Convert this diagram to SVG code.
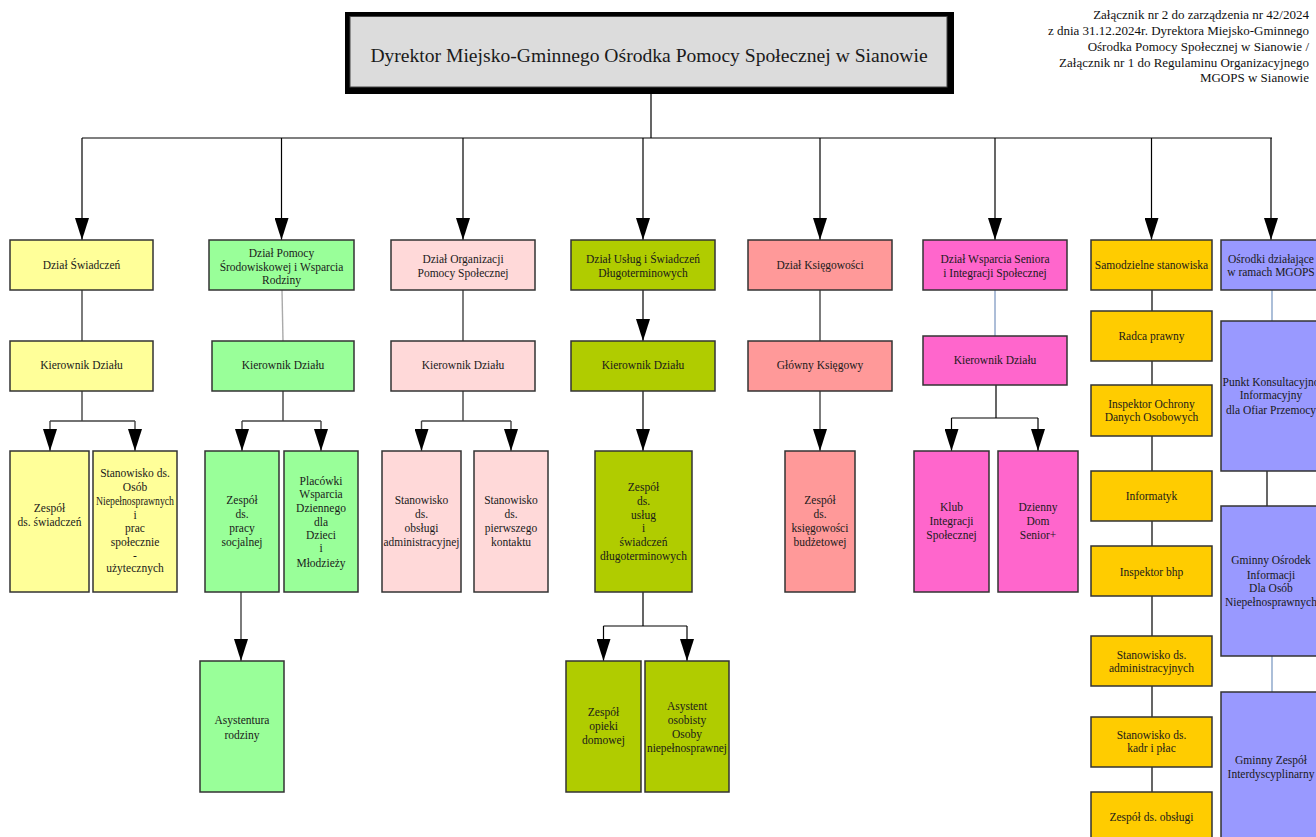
<svg xmlns="http://www.w3.org/2000/svg" width="1316" height="837" viewBox="0 0 1316 837">
<defs>
<style>
.t{font-family:"Liberation Serif","Times New Roman",serif;font-size:11.5px;fill:#1a1a1a;text-anchor:middle}
.ann{font-family:"Liberation Serif","Times New Roman",serif;font-size:13px;fill:#111;text-anchor:end}
.title{font-family:"Liberation Serif","Times New Roman",serif;font-size:19.6px;fill:#1a1a1a;text-anchor:middle}
.b{stroke:#333;stroke-width:1.5}
.y{fill:#ffff99}.g{fill:#99ff99}.p{fill:#ffd9d9}.l{fill:#b0cc00}.s{fill:#ff9999}.m{fill:#ff66cc}.o{fill:#ffcc00}.v{fill:#9999ff}
.c{fill:none;stroke:#444;stroke-width:1.4}
.ck{stroke:#000;stroke-width:1.2}
.cl{stroke:#aaa}
.cb{stroke:#5a7db0;stroke-width:1}
.cv{stroke:#7f9cc4;stroke-width:1.3}
</style>
<marker id="ah" markerUnits="userSpaceOnUse" markerWidth="22" markerHeight="14" viewBox="0 0 22 14" refX="22" refY="7" orient="auto"><path d="M0,0 L22,7 L0,14 Z" fill="#000"/></marker>
</defs>
<rect width="1316" height="837" fill="#fff"/>

<g id="annotation">
<text class="ann" x="1309" y="19">Załącznik nr 2 do zarządzenia nr 42/2024</text>
<text class="ann" x="1309" y="35">z dnia 31.12.2024r. Dyrektora Miejsko-Gminnego</text>
<text class="ann" x="1309" y="51">Ośrodka Pomocy Społecznej w Sianowie /</text>
<text class="ann" x="1309" y="67">Załącznik nr 1 do Regulaminu Organizacyjnego</text>
<text class="ann" x="1309" y="82">MGOPS w Sianowie</text>
</g>

<g id="connectors">
<path class="c ck" d="M651,92 V138 M82,138 H1272"/>
<path class="c ck" marker-end="url(#ah)" d="M82,138 V240"/>
<path class="c ck" marker-end="url(#ah)" d="M281.5,138 V240"/>
<path class="c ck" marker-end="url(#ah)" d="M463,138 V240"/>
<path class="c ck" marker-end="url(#ah)" d="M643,138 V240"/>
<path class="c ck" marker-end="url(#ah)" d="M820,138 V240"/>
<path class="c ck" marker-end="url(#ah)" d="M995,138 V240"/>
<path class="c ck" marker-end="url(#ah)" d="M1151.5,138 V240"/>
<path class="c ck" marker-end="url(#ah)" d="M1271,138 V240"/>

<path class="c" d="M82,290 V341"/>
<path class="c" d="M82,391 V421 M50,421 H135"/>
<path class="c" marker-end="url(#ah)" d="M50,421 V451"/>
<path class="c" marker-end="url(#ah)" d="M135,421 V451"/>

<path class="c cl" d="M282,290 L283,341"/>
<path class="c" d="M283,391 V421 M242,421 H321"/>
<path class="c" marker-end="url(#ah)" d="M242,421 V451"/>
<path class="c" marker-end="url(#ah)" d="M321,421 V451"/>
<path class="c" marker-end="url(#ah)" d="M241,592 V661"/>

<path class="c" d="M463,290 V341"/>
<path class="c" d="M463,391 V421 M421.5,421 H511"/>
<path class="c" marker-end="url(#ah)" d="M421.5,421 V451"/>
<path class="c" marker-end="url(#ah)" d="M511,421 V451"/>

<path class="c ck" marker-end="url(#ah)" d="M643,290 V341"/>
<path class="c ck" marker-end="url(#ah)" d="M643,391 V451"/>
<path class="c ck" d="M643,592 V626 M603.5,626 H687"/>
<path class="c ck" marker-end="url(#ah)" d="M603.5,626 V661"/>
<path class="c ck" marker-end="url(#ah)" d="M687,626 V661"/>

<path class="c" d="M820,290 V341"/>
<path class="c" marker-end="url(#ah)" d="M820,391 V451"/>

<path class="c cb" d="M995,290 V336"/>
<path class="c ck" d="M996,385 V418 M951.5,418 H1038"/>
<path class="c ck" marker-end="url(#ah)" d="M951.5,418 V451"/>
<path class="c ck" marker-end="url(#ah)" d="M1038,418 V451"/>

<path class="c ck" d="M1152,290 V311 M1152,361 V385 M1152,436 V471 M1152,521 V546 M1152,596 V636 M1152,686 V717 M1152,767 V792"/>

<path class="c cv" d="M1272,290 V321"/>
<path class="c ck" d="M1267,471 V506"/>
<path class="c cv" d="M1272,656 V692"/>
</g>

<g id="n_dyrektor">
<rect x="345" y="12" width="609" height="82" fill="#000"/>
<rect x="350" y="16.5" width="597" height="70.5" fill="#dcdcdc" stroke="#444" stroke-width="1"/>
<text class="title" x="649" y="62">Dyrektor Miejsko-Gminnego Ośrodka Pomocy Społecznej w Sianowie</text>
</g>

<g id="n_swiadczen">
<rect class="b y" x="10" y="240" width="143" height="50"/>
<text class="t" x="81.5" y="269">Dział Świadczeń</text>
</g>
<g id="n_swiadczen_kier">
<rect class="b y" x="10" y="341" width="143" height="50"/>
<text class="t" x="81.5" y="369">Kierownik Działu</text>
</g>
<g id="n_swiadczen_zespol">
<rect class="b y" x="10" y="451" width="79" height="141"/>
<text class="t" x="49.5" y="512">Zespół</text>
<text class="t" x="49.5" y="526">ds. świadczeń</text>
</g>
<g id="n_swiadczen_stan">
<rect class="b y" x="93" y="451" width="84" height="141"/>
<text class="t" x="135" y="477">Stanowisko ds.</text>
<text class="t" x="135" y="491">Osób</text>
<text class="t" x="135" y="505" textLength="78" lengthAdjust="spacingAndGlyphs">Niepełnosprawnych</text>
<text class="t" x="135" y="519">i</text>
<text class="t" x="135" y="532">prac</text>
<text class="t" x="135" y="546">społecznie</text>
<text class="t" x="135" y="559">-</text>
<text class="t" x="135" y="572">użytecznych</text>
</g>

<g id="n_pomocy">
<rect class="b g" x="209" y="240" width="145" height="50"/>
<text class="t" x="281.5" y="257">Dział Pomocy</text>
<text class="t" x="281.5" y="270.5">Środowiskowej i Wsparcia</text>
<text class="t" x="281.5" y="284">Rodziny</text>
</g>
<g id="n_pomocy_kier">
<rect class="b g" x="212" y="341" width="142" height="50"/>
<text class="t" x="283" y="369">Kierownik Działu</text>
</g>
<g id="n_pomocy_zespol">
<rect class="b g" x="205" y="451" width="74" height="141"/>
<text class="t" x="242" y="504">Zespół</text>
<text class="t" x="242" y="518">ds.</text>
<text class="t" x="242" y="532">pracy</text>
<text class="t" x="242" y="546">socjalnej</text>
</g>
<g id="n_pomocy_placowki">
<rect class="b g" x="284" y="451" width="74" height="141"/>
<text class="t" x="321" y="485">Placówki</text>
<text class="t" x="321" y="498">Wsparcia</text>
<text class="t" x="321" y="512">Dziennego</text>
<text class="t" x="321" y="526">dla</text>
<text class="t" x="321" y="539">Dzieci</text>
<text class="t" x="321" y="552">i</text>
<text class="t" x="321" y="567">Młodzieży</text>
</g>
<g id="n_pomocy_asystentura">
<rect class="b g" x="200" y="661" width="84" height="131"/>
<text class="t" x="242" y="724">Asystentura</text>
<text class="t" x="242" y="739">rodziny</text>
</g>

<g id="n_organizacji">
<rect class="b p" x="391" y="240" width="144" height="50"/>
<text class="t" x="463" y="263">Dział Organizacji</text>
<text class="t" x="463" y="277">Pomocy Społecznej</text>
</g>
<g id="n_organizacji_kier">
<rect class="b p" x="391" y="341" width="144" height="50"/>
<text class="t" x="463" y="369">Kierownik Działu</text>
</g>
<g id="n_organizacji_obsl">
<rect class="b p" x="382" y="451" width="79" height="141"/>
<text class="t" x="421.5" y="504">Stanowisko</text>
<text class="t" x="421.5" y="518">ds.</text>
<text class="t" x="421.5" y="532">obsługi</text>
<text class="t" x="421.5" y="546" textLength="76" lengthAdjust="spacingAndGlyphs">administracyjnej</text>
</g>
<g id="n_organizacji_kontakt">
<rect class="b p" x="474" y="451" width="74" height="141"/>
<text class="t" x="511" y="504">Stanowisko</text>
<text class="t" x="511" y="518">ds.</text>
<text class="t" x="511" y="532">pierwszego</text>
<text class="t" x="511" y="546">kontaktu</text>
</g>

<g id="n_uslug">
<rect class="b l" x="571" y="240" width="144" height="50"/>
<text class="t" x="643" y="263">Dział Usług i Świadczeń</text>
<text class="t" x="643" y="277">Długoterminowych</text>
</g>
<g id="n_uslug_kier">
<rect class="b l" x="571" y="341" width="144" height="50"/>
<text class="t" x="643" y="369">Kierownik Działu</text>
</g>
<g id="n_uslug_zespol">
<rect class="b l" x="595" y="451" width="97" height="141"/>
<text class="t" x="643.5" y="491">Zespół</text>
<text class="t" x="643.5" y="505">ds.</text>
<text class="t" x="643.5" y="519">usług</text>
<text class="t" x="643.5" y="532">i</text>
<text class="t" x="643.5" y="546">świadczeń</text>
<text class="t" x="643.5" y="560">długoterminowych</text>
</g>
<g id="n_uslug_opieka">
<rect class="b l" x="566" y="661" width="75" height="131"/>
<text class="t" x="603.5" y="716">Zespół</text>
<text class="t" x="603.5" y="730">opieki</text>
<text class="t" x="603.5" y="744">domowej</text>
</g>
<g id="n_uslug_asystent">
<rect class="b l" x="645" y="661" width="84" height="131"/>
<text class="t" x="687" y="710">Asystent</text>
<text class="t" x="687" y="724">osobisty</text>
<text class="t" x="687" y="738">Osoby</text>
<text class="t" x="687" y="752" textLength="80" lengthAdjust="spacingAndGlyphs">niepełnosprawnej</text>
</g>

<g id="n_ksiegowosci">
<rect class="b s" x="748" y="240" width="144" height="50"/>
<text class="t" x="820" y="269">Dział Księgowości</text>
</g>
<g id="n_ksiegowosci_glowny">
<rect class="b s" x="748" y="341" width="144" height="50"/>
<text class="t" x="820" y="369">Główny Księgowy</text>
</g>
<g id="n_ksiegowosci_zespol">
<rect class="b s" x="785" y="451" width="70" height="141"/>
<text class="t" x="820" y="504">Zespół</text>
<text class="t" x="820" y="518">ds.</text>
<text class="t" x="820" y="532">księgowości</text>
<text class="t" x="820" y="546">budżetowej</text>
</g>

<g id="n_seniora">
<rect class="b m" x="923" y="240" width="144" height="50"/>
<text class="t" x="995" y="263">Dział Wsparcia Seniora</text>
<text class="t" x="995" y="277">i Integracji Społecznej</text>
</g>
<g id="n_seniora_kier">
<rect class="b m" x="923" y="336" width="144" height="49"/>
<text class="t" x="995" y="364">Kierownik Działu</text>
</g>
<g id="n_seniora_klub">
<rect class="b m" x="914" y="451" width="75" height="141"/>
<text class="t" x="951.5" y="511">Klub</text>
<text class="t" x="951.5" y="525">Integracji</text>
<text class="t" x="951.5" y="539">Społecznej</text>
</g>
<g id="n_seniora_dom">
<rect class="b m" x="998" y="451" width="80" height="141"/>
<text class="t" x="1038" y="511">Dzienny</text>
<text class="t" x="1038" y="525">Dom</text>
<text class="t" x="1038" y="539">Senior+</text>
</g>

<g id="n_samodzielne">
<rect class="b o" x="1091" y="240" width="121" height="50"/>
<text class="t" x="1151.5" y="269">Samodzielne stanowiska</text>
</g>
<g id="n_radca">
<rect class="b o" x="1091" y="311" width="121" height="50"/>
<text class="t" x="1151.5" y="340">Radca prawny</text>
</g>
<g id="n_iod">
<rect class="b o" x="1091" y="385" width="121" height="51"/>
<text class="t" x="1151.5" y="408">Inspektor Ochrony</text>
<text class="t" x="1151.5" y="421">Danych Osobowych</text>
</g>
<g id="n_informatyk">
<rect class="b o" x="1091" y="471" width="121" height="50"/>
<text class="t" x="1151.5" y="500">Informatyk</text>
</g>
<g id="n_bhp">
<rect class="b o" x="1091" y="546" width="121" height="50"/>
<text class="t" x="1151.5" y="576">Inspektor bhp</text>
</g>
<g id="n_admin">
<rect class="b o" x="1091" y="636" width="121" height="50"/>
<text class="t" x="1151.5" y="659">Stanowisko ds.</text>
<text class="t" x="1151.5" y="672">administracyjnych</text>
</g>
<g id="n_kadry">
<rect class="b o" x="1091" y="717" width="121" height="50"/>
<text class="t" x="1151.5" y="739">Stanowisko ds.</text>
<text class="t" x="1151.5" y="752">kadr i płac</text>
</g>
<g id="n_obsluga">
<rect class="b o" x="1091" y="792" width="121" height="50"/>
<text class="t" x="1151.5" y="821">Zespół ds. obsługi</text>
</g>

<g id="n_osrodki">
<rect class="b v" x="1221" y="240" width="100" height="50"/>
<text class="t" x="1271" y="263">Ośrodki działające</text>
<text class="t" x="1271" y="276">w ramach MGOPS</text>
</g>
<g id="n_punkt">
<rect class="b v" x="1221" y="321" width="100" height="150"/>
<text class="t" x="1271" y="386">Punkt Konsultacyjno</text>
<text class="t" x="1271" y="399">Informacyjny</text>
<text class="t" x="1271" y="414">dla Ofiar Przemocy</text>
</g>
<g id="n_goi">
<rect class="b v" x="1221" y="506" width="100" height="150"/>
<text class="t" x="1271" y="564">Gminny Ośrodek</text>
<text class="t" x="1271" y="579">Informacji</text>
<text class="t" x="1271" y="592">Dla Osób</text>
<text class="t" x="1271" y="606">Niepełnosprawnych</text>
</g>
<g id="n_gzi">
<rect class="b v" x="1221" y="692" width="100" height="150"/>
<text class="t" x="1271" y="764">Gminny Zespół</text>
<text class="t" x="1271" y="778">Interdyscyplinarny</text>
</g>
</svg>
